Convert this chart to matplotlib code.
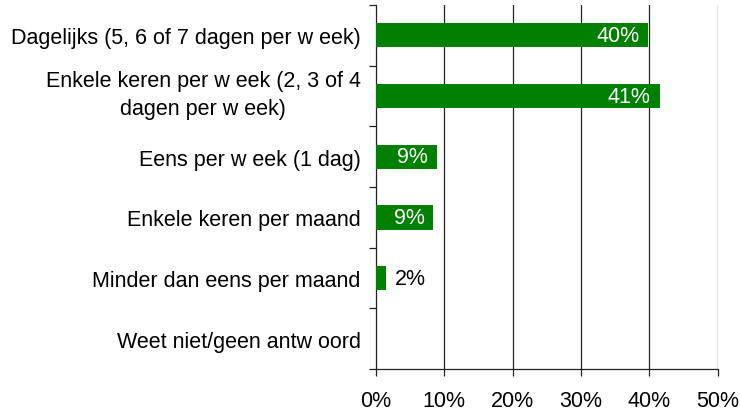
import matplotlib.pyplot as plt
import matplotlib.transforms as mtransforms
import numpy as np

plt.rcParams['font.family'] = ['Liberation Sans', 'DejaVu Sans']

# data
categories = [
    "Dagelijks (5, 6 of 7 dagen per w eek)",
    "Enkele keren per w eek (2, 3 of 4\ndagen per w eek)",
    "Eens per w eek (1 dag)",
    "Enkele keren per maand",
    "Minder dan eens per maand",
    "Weet niet/geen antw oord",
]
values = [39.8, 41.5, 8.9, 8.4, 1.5, 0.0]
labels = ["40%", "41%", "9%", "9%", "2%", ""]
xticks = [0, 10, 20, 30, 40, 50]

fs = 15.5

fig = plt.figure(figsize=(7.4, 4.14), dpi=100)
ax = fig.add_axes([0.508, 0.106, 0.462, 0.8795])

y = np.arange(len(categories))
bars = ax.barh(y, values, height=0.4, color='#008000', zorder=3)

ax.set_xlim(0, 50)
ax.set_ylim(len(categories) - 0.5, -0.5)

# vertical gridlines
for x in xticks[1:]:
    ax.axvline(x, color='#222222', lw=0.9, zorder=1)

# bar labels
for b, v, lab in zip(bars, values, labels):
    if not lab:
        continue
    if v > 5:
        ax.text(v - 1.3, b.get_y() + b.get_height() / 2, lab, color='white',
                ha='right', va='center', fontsize=fs, zorder=4)
    else:
        ax.text(v + 1.2, b.get_y() + b.get_height() / 2, lab, color='black',
                ha='left', va='center', fontsize=fs, zorder=4)

ax.set_xticks(xticks)
ax.set_xticklabels([f"{t}%" for t in xticks], fontsize=fs)
ax.tick_params(axis='x', length=5, width=0.9, pad=10, color='#222222')

ax.set_yticks(y)
ylabs = ax.set_yticklabels(categories, fontsize=fs, multialignment='center', linespacing=1.45)
ax.set_yticks(np.arange(len(categories) + 1) - 0.5, minor=True)
ax.tick_params(axis='y', which='major', length=0, pad=11)
ax.tick_params(axis='y', which='minor', length=5, width=0.9, color='#222222')

# the two-line label sits a bit higher in the original
shift = mtransforms.ScaledTranslation(0, 8 / 100, fig.dpi_scale_trans)
ylabs[1].set_transform(ylabs[1].get_transform() + shift)

for s in ['top', 'right']:
    ax.spines[s].set_visible(False)
for s in ['left', 'bottom']:
    ax.spines[s].set_color('#222222')
    ax.spines[s].set_linewidth(0.9)

fig.savefig('out.png', dpi=100)
